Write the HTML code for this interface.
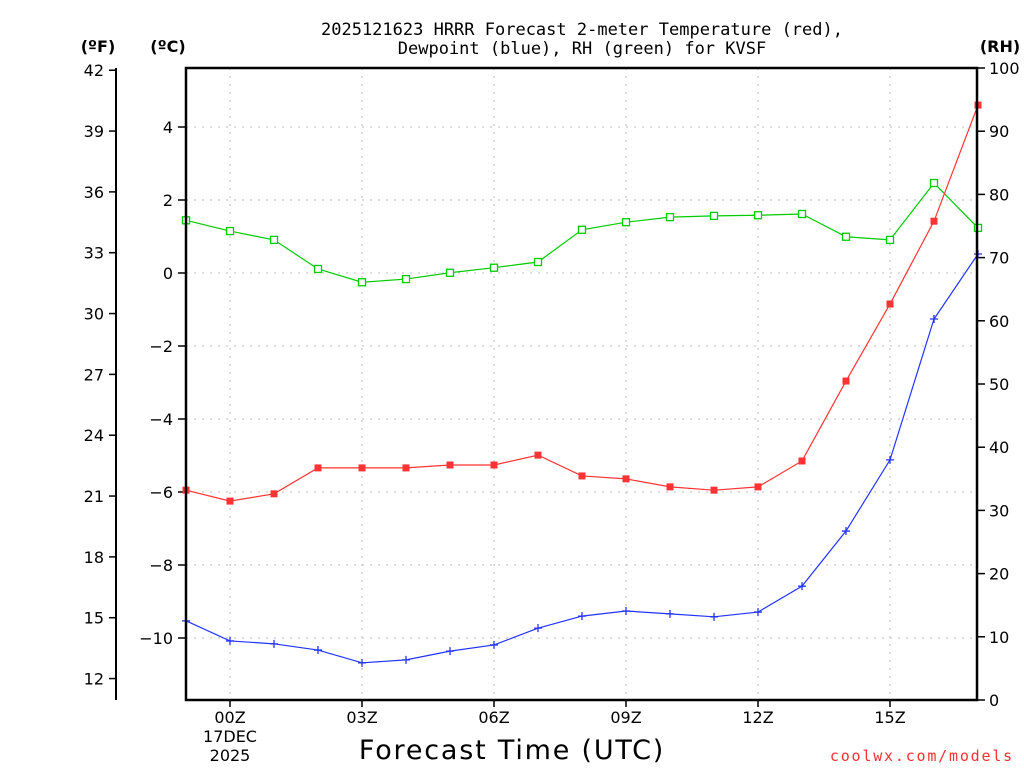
<!DOCTYPE html>
<html><head><meta charset="utf-8"><style>
body{margin:0;background:#fff;}
svg{display:block;font-family:"DejaVu Sans","Liberation Sans",sans-serif;}
</style></head><body>
<svg id="chart" width="1024" height="768">
<text x="582" y="35" font-size="17" text-anchor="middle" font-family="DejaVu Sans Mono, Liberation Mono, monospace">2025121623 HRRR Forecast 2-meter Temperature (red),</text>
<text x="582" y="54" font-size="17" text-anchor="middle" font-family="DejaVu Sans Mono, Liberation Mono, monospace">Dewpoint (blue), RH (green) for KVSF</text>
<text x="98" y="52" font-size="16" font-weight="bold" text-anchor="middle">(ºF)</text>
<text x="168" y="52" font-size="16" font-weight="bold" text-anchor="middle">(ºC)</text>
<text x="1000" y="52" font-size="16" font-weight="bold" text-anchor="middle">(RH)</text>
<text x="512" y="759" font-size="27" letter-spacing="1.8" text-anchor="middle">Forecast Time (UTC)</text>
<text x="1014" y="761" font-size="15" letter-spacing="1.8" fill="#e33" text-anchor="end" font-family="DejaVu Sans Mono, monospace">coolwx.com/models</text>
<g id="grid"></g><g id="axes"></g><g id="series"></g>
<rect x="186" y="68" width="791" height="632" fill="none" stroke="#000" stroke-width="2.5"/>
</svg>
<script>
const hours=[-1,0,1,2,3,4,5,6,7,8,9,10,11,12,13,14,15,16,17];
const tempC=[-5.95,-6.25,-6.05,-5.34,-5.34,-5.34,-5.26,-5.26,-4.99,-5.56,-5.64,-5.86,-5.95,-5.86,-5.15,-2.96,-0.85,1.42,4.6];
const dewC=[-9.53,-10.08,-10.16,-10.33,-10.68,-10.6,-10.36,-10.19,-9.73,-9.4,-9.26,-9.34,-9.42,-9.29,-8.58,-7.07,-5.12,-1.26,0.52];
const rh=[75.9,74.2,72.8,68.2,66.1,66.6,67.6,68.4,69.3,74.4,75.6,76.4,76.6,76.7,76.9,73.3,72.8,81.8,74.7];
const cTicks=[4,2,0,-2,-4,-6,-8,-10];
const fTicks=[42,39,36,33,30,27,24,21,18,15,12];
const rhTicks=[0,10,20,30,40,50,60,70,80,90,100];
const xTickHours=[0,3,6,9,12,15];
const xTickLabels=["00Z","03Z","06Z","09Z","12Z","15Z"];
const NS="http://www.w3.org/2000/svg";
const X=h=>186+(h+1)*44;
const YC=c=>273-c*36.5;
const YF=f=>YC((f-32)*5/9);
const YR=r=>700-r*6.32;
function mk(tag,attrs,parent,text){const e=document.createElementNS(NS,tag);for(const k in attrs)e.setAttribute(k,attrs[k]);if(text!==undefined)e.textContent=text;document.getElementById(parent).appendChild(e);return e;}
const g="#bbb";
xTickHours.forEach((h,i)=>{
 const l=mk('line',{x1:X(h),x2:X(h),y1:68,y2:700,stroke:g,'stroke-dasharray':'2,6'},'grid');
 
 
 mk('line',{x1:X(h),x2:X(h),y1:700,y2:707,stroke:'#000','stroke-width':1.5},'axes');
 const t=mk('text',{x:X(h),y:723,'font-size':16,'text-anchor':'middle'},'axes',xTickLabels[i]);
 
 
});
const d1=mk('text',{x:X(0),y:742,'font-size':16,'text-anchor':'middle'},'axes','17DEC');


const d2=mk('text',{x:X(0),y:761,'font-size':16,'text-anchor':'middle'},'axes','2025');


cTicks.forEach(c=>{
 const l=mk('line',{x1:186,x2:977,y1:YC(c),y2:YC(c),stroke:g,'stroke-dasharray':'2,6'},'grid');
 
 
 mk('line',{x1:178,x2:186,y1:YC(c),y2:YC(c),stroke:'#000','stroke-width':1.5},'axes');
 const t=mk('text',{x:173,y:YC(c)+6,'font-size':16,'text-anchor':'end'},'axes',c<0?'\u2212'+(-c):String(c));
 
 
});
const fl=mk('line',{x1:116,x2:116,y1:68,y2:700,stroke:'#000','stroke-width':2},'axes');


fTicks.forEach(f=>{
 mk('line',{x1:109,x2:116,y1:YF(f),y2:YF(f),stroke:'#000','stroke-width':1.5},'axes');
 const t=mk('text',{x:104,y:YF(f)+6,'font-size':16,'text-anchor':'end'},'axes',String(f));
 
 
});
rhTicks.forEach(r=>{
 mk('line',{x1:977,x2:985,y1:YR(r),y2:YR(r),stroke:'#000','stroke-width':1.5},'axes');
 const t=mk('text',{x:989,y:YR(r)+6,'font-size':16},'axes',String(r));
 
 
});
function series(vals,yf,color,marker,name){
 const pts=vals.map((v,i)=>[X(hours[i]),yf(v)]);
 const p=mk('polyline',{points:pts.map(p=>p.join(',')).join(' '),fill:'none',stroke:color,'stroke-width':1.2},'series');
 
 
 pts.forEach(([x,y])=>{
  let m;
  if(marker==='fill') m=mk('rect',{x:x-3.5,y:y-3.5,width:7,height:7,fill:color},'series');
  else if(marker==='open') m=mk('rect',{x:x-3.5,y:y-3.5,width:7,height:7,fill:'#fff',stroke:color,'stroke-width':1.3},'series');
  else m=mk('path',{d:`M${x-4},${y}H${x+4}M${x},${y-4}V${y+4}`,stroke:color,'stroke-width':1.3},'series');
  
  
 });
}
series(rh,YR,'#00cc00','open','rh');
series(tempC,YC,'#ff3333','fill','temperature');
series(dewC,YC,'#2233ff','plus','dewpoint');
</script>
</body></html>
